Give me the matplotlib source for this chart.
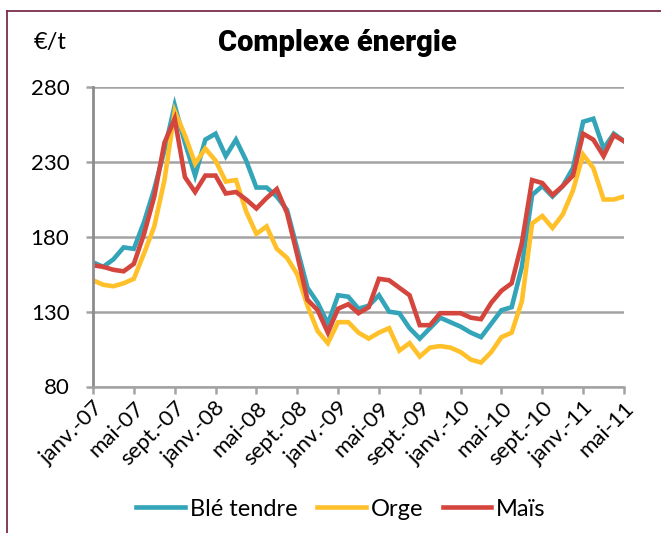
import matplotlib
matplotlib.use("Agg")
import matplotlib.pyplot as plt
from matplotlib.lines import Line2D

# ---- data ----
tick_labels = ["janv.-07", "mai-07", "sept.-07", "janv.-08", "mai-08", "sept.-08",
               "janv.-09", "mai-09", "sept.-09", "janv.-10", "mai-10", "sept.-10",
               "janv.-11", "mai-11"]

ble_tendre = [163, 160, 165, 173, 172, 190, 212, 238, 268, 243, 221, 245, 249, 234,
              245, 231, 213, 213, 207, 198, 172, 146, 136, 122, 141, 140, 132, 134,
              141, 130, 129, 119, 112, 119, 126, 123, 120, 116, 113, 122, 131, 133,
              160, 208, 214, 207, 214, 226, 257, 259, 239, 249, 244]

orge = [151, 148, 147, 149, 152, 169, 187, 218, 264, 248, 229, 239, 231, 217,
        218, 197, 182, 187, 172, 166, 155, 134, 117, 109, 123, 123, 116, 112,
        116, 119, 104, 109, 100, 106, 107, 106, 103, 98, 96, 103, 113, 116,
        137, 189, 194, 186, 195, 211, 235, 226, 205, 205, 207]

mais = [161, 160, 158, 157, 162, 182, 207, 243, 259, 220, 210, 221, 221, 209,
        210, 205, 199, 206, 212, 196, 168, 138, 131, 116, 132, 135, 129, 133,
        152, 151, 146, 141, 121, 121, 129, 129, 129, 126, 125, 136, 144, 149,
        176, 218, 216, 208, 214, 221, 249, 245, 234, 248, 244]

series_names = ["Blé tendre", "Orge", "Maïs"]
colors = ["#34A4B9", "#FFC02A", "#D4463D"]

y_ticks = [80, 130, 180, 230, 280]

# ---- figure ----
plt.rcParams['font.family'] = ['Lato', 'DejaVu Sans']
fig = plt.figure(figsize=(6.61, 5.33), dpi=100)
ax = fig.add_axes([93 / 661, 1 - 386.5 / 533, 531 / 661, 299.2 / 533])

x = list(range(len(ble_tendre)))
for vals, name, c in zip([ble_tendre, orge, mais], series_names, colors):
    ax.plot(x, vals, color=c, lw=3.3, label=name, solid_joinstyle='miter')

ax.set_xlim(0, len(ble_tendre) - 1)
ax.set_ylim(80, 280)
ax.set_yticks(y_ticks)
ax.set_xticks(list(range(0, len(ble_tendre), 4)))
ax.set_xticklabels(tick_labels, rotation=45, ha='right', rotation_mode='anchor')

grid_c = "#A3A3A3"
ax.yaxis.grid(True, color=grid_c, lw=1.8)
ax.set_axisbelow(True)
for s in ['top', 'right']:
    ax.spines[s].set_visible(False)
ax.spines['left'].set_color("#8C8C8C")
ax.spines['left'].set_linewidth(2)
ax.spines['bottom'].set_color(grid_c)
ax.spines['bottom'].set_linewidth(1.8)
ax.tick_params(axis='y', length=5, width=1.8, color=grid_c, labelsize=16, pad=12)
ax.tick_params(axis='x', length=5, width=1.8, color=grid_c, labelsize=16, pad=3)

fig.text(50 / 661, 1 - 42 / 533, "€/t", fontsize=17, ha='center', va='center')
fig.text(337 / 661, 1 - 43 / 533, "Complexe énergie", fontsize=21, fontweight='black',
         family=['Roboto', 'DejaVu Sans'], ha='center', va='center')

fig.legend(loc='center', bbox_to_anchor=(341 / 661, 1 - 509 / 533), ncol=3,
           frameon=False, fontsize=17, handlelength=2.05, handletextpad=0.2,
           columnspacing=0.85)

# border (left and top)
bc = "#7B2D4B"
fig.add_artist(Line2D([6.5 / 661, 6.5 / 661], [0, 1 - 11 / 533], color=bc, lw=1.3,
                      transform=fig.transFigure))
fig.add_artist(Line2D([6.5 / 661, 1], [1 - 11 / 533, 1 - 11 / 533], color=bc, lw=1.3,
                      transform=fig.transFigure))

fig.savefig("out.png", dpi=100)
